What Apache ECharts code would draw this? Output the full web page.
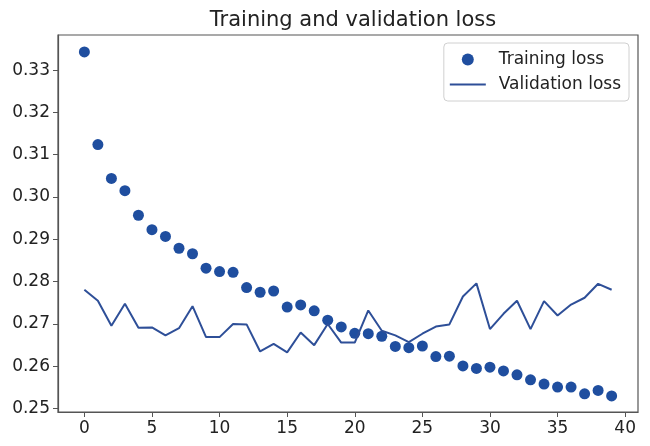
<!DOCTYPE html>
<html><head><meta charset="utf-8">
<script src="https://cdn.jsdelivr.net/npm/echarts@6/dist/echarts.min.js"></script>
<style>html,body{margin:0;padding:0;background:#fff}#c{width:650px;height:446px}</style>
</head><body><div id="c"></div>
<script>
const epochs = Array.from({length: 40}, (_, i) => i);
const trainingLoss = [0.3343,0.3124,0.3044,0.3015,0.2957,0.2923,0.2907,0.2879,0.2866,0.2832,
  0.2824,0.2822,0.2786,0.2775,0.2778,0.2740,0.2745,0.2731,0.2709,0.2693,
  0.2678,0.2677,0.2671,0.2647,0.2644,0.2648,0.2623,0.2624,0.2601,0.2595,
  0.2598,0.2589,0.2580,0.2568,0.2558,0.2551,0.2551,0.2535,0.2543,0.2530];
const validationLoss = [0.2781,0.2755,0.2696,0.2748,0.2691,0.2692,0.2673,0.2690,0.2742,0.2669,
  0.2669,0.2700,0.2699,0.2635,0.2653,0.2633,0.2680,0.2650,0.2700,0.2656,
  0.2656,0.2732,0.2684,0.2673,0.2657,0.2677,0.2694,0.2699,0.2765,0.2796,
  0.2688,0.2724,0.2755,0.2688,0.2754,0.2720,0.2746,0.2762,0.2795,0.2781];
const xTicks = [0,5,10,15,20,25,30,35,40];
const yTicks = [0.25,0.26,0.27,0.28,0.29,0.30,0.31,0.32,0.33];

const font = 'DejaVu Sans';
const lineColor = '#2e4f98';
const chart = echarts.init(document.getElementById('c'), null, {renderer: 'canvas'});
chart.setOption({
  animation: false,
  backgroundColor: '#fff',
  title: {
    text: 'Training and validation loss',
    left: 348, textAlign: 'center', top: 5,
    textStyle: {fontFamily: font, fontSize: 21, fontWeight: 'normal', color: '#222'}
  },
  legend: {
    orient: 'vertical', right: 21, top: 43,
    backgroundColor: '#fff', borderColor: '#d0d0d0', borderWidth: 1, borderRadius: 4,
    padding: [8, 8, 8, 6], itemGap: 8, itemWidth: 36, itemHeight: 12,
    textStyle: {fontFamily: font, fontSize: 17, color: '#222', padding: [0, 0, 0, 8]},
    data: [
      {name: 'Training loss', icon: 'circle'},
      {name: 'Validation loss', icon: 'path://M0,0 L36,0 L36,2 L0,2 Z', itemStyle: {color: lineColor}}
    ]
  },
  grid: {left: 58, right: 12, top: 35, bottom: 34, show: true, borderColor: '#555', borderWidth: 1.2},
  xAxis: {
    type: 'value', min: -1.95, max: 40.95,
    splitLine: {show: false},
    axisLine: {show: true, onZero: false, lineStyle: {color: '#555', width: 1.2}},
    axisTick: {show: true, length: 5, customValues: xTicks, lineStyle: {color: '#555'}},
    axisLabel: {customValues: xTicks, fontFamily: font, fontSize: 17, color: '#222', margin: 8}
  },
  yAxis: {
    type: 'value', min: 0.2492, max: 0.3383,
    splitLine: {show: false},
    axisLine: {show: true, onZero: false, lineStyle: {color: '#555', width: 1.2}},
    axisTick: {show: true, length: 5, customValues: yTicks, lineStyle: {color: '#555'}},
    axisLabel: {customValues: yTicks, fontFamily: font, fontSize: 17, color: '#222', margin: 8,
      formatter: v => v.toFixed(2)}
  },
  series: [
    {name: 'Training loss', type: 'scatter', symbol: 'circle', symbolSize: 11,
     itemStyle: {color: '#1f4e9f', opacity: 1},
     data: epochs.map((e, i) => [e, trainingLoss[i]])},
    {name: 'Validation loss', type: 'line', symbol: 'none', showSymbol: false,
     lineStyle: {color: lineColor, width: 2}, itemStyle: {color: lineColor},
     data: epochs.map((e, i) => [e, validationLoss[i]])}
  ]
});
</script></body></html>
